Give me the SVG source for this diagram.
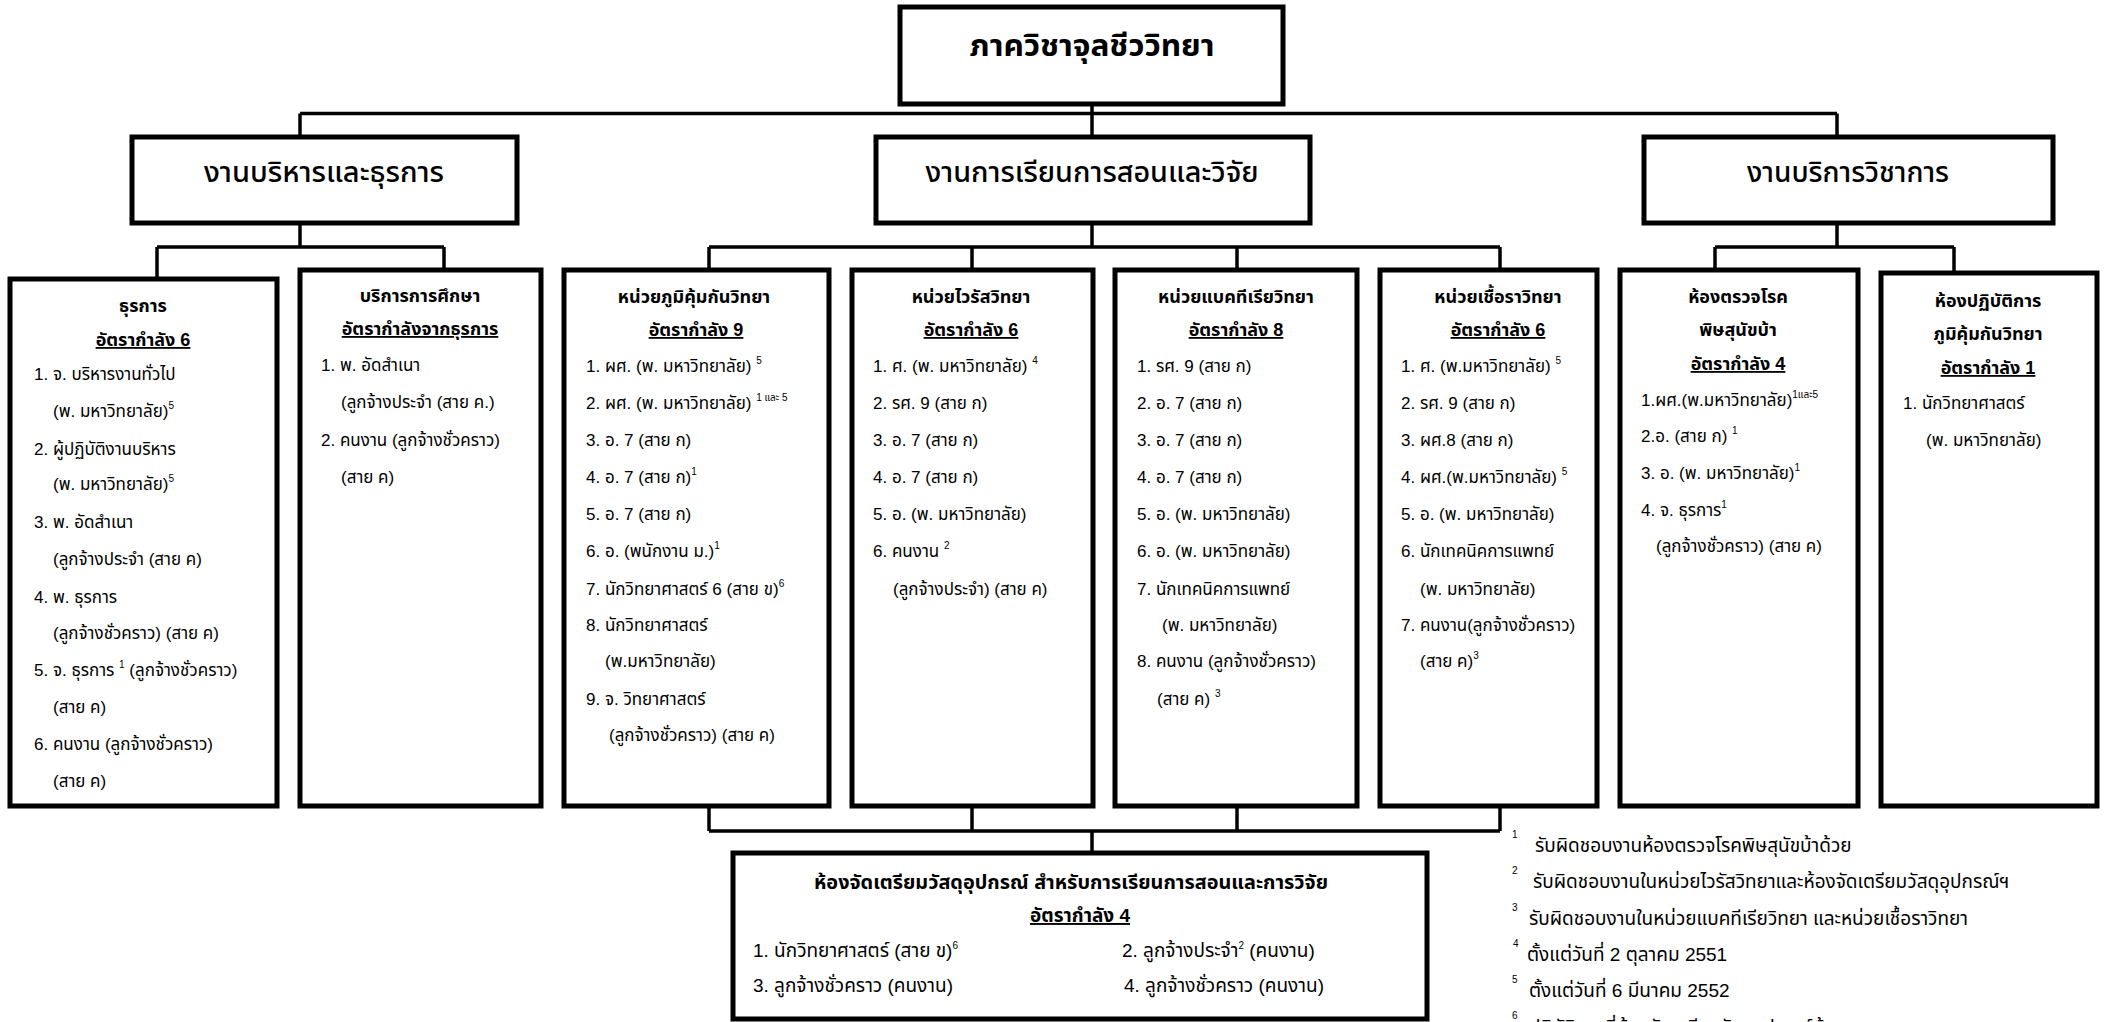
<svg xmlns="http://www.w3.org/2000/svg" width="2116" height="1022" viewBox="0 0 2116 1022">
<style>
.bx{fill:#fff;stroke:#000;stroke-width:5}
.cn{fill:none;stroke:#000;stroke-width:3.5}
text{font-family:"Liberation Sans","Noto Sans Thai","Noto Sans",sans-serif;fill:#000}
.c{font-size:17px}
.h{font-size:18px;font-weight:bold;text-anchor:middle}
.u{text-decoration:underline}
.n{font-size:28px;font-weight:500}
.nb{font-size:30px;font-weight:bold;text-anchor:middle}
.f{font-size:19px}
.s{font-size:10px}
</style>
<rect width="2116" height="1022" fill="#fff"/>
<g id="connectors">
<path class="cn" d="M1092 104V137M300 113.5H1837M300 113.5V137M1837 113.5V137"/>
<path class="cn" d="M300 223V247M157 247H444M157 247V279M444 247V270"/>
<path class="cn" d="M1092 223V247M709 247H1500M709 247V270M972 247V270M1237 247V270M1500 247V270"/>
<path class="cn" d="M1837 223V247M1715 247H1954M1715 247V270M1954 247V273"/>
<path class="cn" d="M709 806V831M972 806V831M1237 806V831M1500 806V831M709 831H1500M1092 831V853"/>
</g>
<g id="title">
<rect class="bx" x="900" y="7" width="383" height="97"/>
<text class="nb" x="1092" y="56" font-size="34" textLength="245" lengthAdjust="spacingAndGlyphs">ภาควิชาจุลชีววิทยา</text>
</g>
<g id="admin">
<rect class="bx" x="132" y="137" width="385" height="86"/>
<text class="n" x="324" y="182" text-anchor="middle" textLength="240" lengthAdjust="spacingAndGlyphs">งานบริหารและธุรการ</text>
</g>
<g id="teaching">
<rect class="bx" x="876" y="137" width="434" height="86"/>
<text class="n" x="1092" y="182" text-anchor="middle" textLength="333" lengthAdjust="spacingAndGlyphs">งานการเรียนการสอนและวิจัย</text>
</g>
<g id="service">
<rect class="bx" x="1644" y="137" width="409" height="86"/>
<text class="n" x="1848" y="182" text-anchor="middle" textLength="202" lengthAdjust="spacingAndGlyphs">งานบริการวิชาการ</text>
</g>
<g id="box1">
<rect class="bx" x="10" y="279" width="267" height="527"/>
<text class="h" x="143" y="312">ธุรการ</text>
<text class="h u" x="143" y="346">อัตรากำลัง 6</text>
<text class="c" x="34" y="380">1. จ. บริหารงานทั่วไป</text>
<text class="c" x="53" y="417">(พ. มหาวิทยาลัย)<tspan class="s" dy="-8">5</tspan></text>
<text class="c" x="34" y="455">2. ผู้ปฏิบัติงานบริหาร</text>
<text class="c" x="53" y="490">(พ. มหาวิทยาลัย)<tspan class="s" dy="-8">5</tspan></text>
<text class="c" x="34" y="528">3. พ. อัดสำเนา</text>
<text class="c" x="53" y="565">(ลูกจ้างประจำ (สาย ค)</text>
<text class="c" x="34" y="603">4.  พ. ธุรการ</text>
<text class="c" x="53" y="639">(ลูกจ้างชั่วคราว) (สาย ค)</text>
<text class="c" x="34" y="676">5. จ. ธุรการ <tspan class="s" dy="-8">1</tspan><tspan dy="8">  (ลูกจ้างชั่วคราว)</tspan></text>
<text class="c" x="53" y="713">(สาย ค)</text>
<text class="c" x="34" y="750">6. คนงาน (ลูกจ้างชั่วคราว)</text>
<text class="c" x="53" y="787">(สาย ค)</text>
</g>
<g id="box2">
<rect class="bx" x="300" y="270" width="241" height="536"/>
<text class="h" x="420" y="302">บริการการศึกษา</text>
<text class="h u" x="420" y="335">อัตรากำลังจากธุรการ</text>
<text class="c" x="321" y="371">1. พ. อัดสำเนา</text>
<text class="c" x="341" y="408">(ลูกจ้างประจำ (สาย ค.)</text>
<text class="c" x="321" y="446">2. คนงาน (ลูกจ้างชั่วคราว)</text>
<text class="c" x="341" y="483">(สาย ค)</text>
</g>
<g id="box3">
<rect class="bx" x="564" y="270" width="265" height="536"/>
<text class="h" x="694" y="303">หน่วยภูมิคุ้มกันวิทยา</text>
<text class="h u" x="696" y="336">อัตรากำลัง 9</text>
<text class="c" x="586" y="372">1. ผศ. (พ. มหาวิทยาลัย) <tspan class="s" dy="-8">5</tspan></text>
<text class="c" x="586" y="409">2. ผศ. (พ. มหาวิทยาลัย) <tspan class="s" dy="-8">1 และ 5</tspan></text>
<text class="c" x="586" y="446">3. อ. 7  (สาย ก)</text>
<text class="c" x="586" y="483">4. อ. 7  (สาย ก)<tspan class="s" dy="-8">1</tspan></text>
<text class="c" x="586" y="520">5. อ. 7  (สาย ก)</text>
<text class="c" x="586" y="557">6. อ.  (พนักงาน ม.)<tspan class="s" dy="-8">1</tspan></text>
<text class="c" x="586" y="595">7. นักวิทยาศาสตร์ 6 (สาย ข)<tspan class="s" dy="-8">6</tspan></text>
<text class="c" x="586" y="631">8. นักวิทยาศาสตร์</text>
<text class="c" x="605" y="667">(พ.มหาวิทยาลัย)</text>
<text class="c" x="586" y="705">9. จ. วิทยาศาสตร์</text>
<text class="c" x="609" y="741">(ลูกจ้างชั่วคราว) (สาย ค)</text>
</g>
<g id="box4">
<rect class="bx" x="852" y="270" width="241" height="536"/>
<text class="h" x="971" y="303">หน่วยไวรัสวิทยา</text>
<text class="h u" x="971" y="336">อัตรากำลัง 6</text>
<text class="c" x="873" y="372">1. ศ. (พ. มหาวิทยาลัย) <tspan class="s" dy="-8">4</tspan></text>
<text class="c" x="873" y="409">2. รศ. 9  (สาย ก)</text>
<text class="c" x="873" y="446">3. อ. 7  (สาย ก)</text>
<text class="c" x="873" y="483">4. อ. 7  (สาย ก)</text>
<text class="c" x="873" y="520">5. อ. (พ. มหาวิทยาลัย)</text>
<text class="c" x="873" y="557">6. คนงาน <tspan class="s" dy="-8">2</tspan></text>
<text class="c" x="893" y="595">(ลูกจ้างประจำ) (สาย ค)</text>
</g>
<g id="box5">
<rect class="bx" x="1115" y="270" width="242" height="536"/>
<text class="h" x="1236" y="303">หน่วยแบคทีเรียวิทยา</text>
<text class="h u" x="1236" y="336">อัตรากำลัง 8</text>
<text class="c" x="1137" y="372">1. รศ. 9 (สาย ก)</text>
<text class="c" x="1137" y="409">2. อ. 7 (สาย ก)</text>
<text class="c" x="1137" y="446">3. อ. 7 (สาย ก)</text>
<text class="c" x="1137" y="483">4. อ. 7 (สาย ก)</text>
<text class="c" x="1137" y="520">5. อ. (พ. มหาวิทยาลัย)</text>
<text class="c" x="1137" y="557">6. อ. (พ. มหาวิทยาลัย)</text>
<text class="c" x="1137" y="595">7. นักเทคนิคการแพทย์</text>
<text class="c" x="1162" y="631">(พ. มหาวิทยาลัย)</text>
<text class="c" x="1137" y="667">8. คนงาน (ลูกจ้างชั่วคราว)</text>
<text class="c" x="1157" y="705">(สาย ค) <tspan class="s" dy="-8">3</tspan></text>
</g>
<g id="box6">
<rect class="bx" x="1380" y="270" width="217" height="536"/>
<text class="h" x="1498" y="303">หน่วยเชื้อราวิทยา</text>
<text class="h u" x="1498" y="336">อัตรากำลัง 6</text>
<text class="c" x="1401" y="372">1. ศ. (พ.มหาวิทยาลัย) <tspan class="s" dy="-8">5</tspan></text>
<text class="c" x="1401" y="409">2. รศ. 9 (สาย ก)</text>
<text class="c" x="1401" y="446">3. ผศ.8 (สาย ก)</text>
<text class="c" x="1401" y="483">4. ผศ.(พ.มหาวิทยาลัย) <tspan class="s" dy="-8">5</tspan></text>
<text class="c" x="1401" y="520">5. อ. (พ. มหาวิทยาลัย)</text>
<text class="c" x="1401" y="557">6. นักเทคนิคการแพทย์</text>
<text class="c" x="1420" y="595">(พ. มหาวิทยาลัย)</text>
<text class="c" x="1401" y="631">7. คนงาน(ลูกจ้างชั่วคราว)</text>
<text class="c" x="1420" y="667">(สาย ค)<tspan class="s" dy="-8">3</tspan></text>
</g>
<g id="box7">
<rect class="bx" x="1620" y="270" width="238" height="536"/>
<text class="h" x="1738" y="303">ห้องตรวจโรค</text>
<text class="h" x="1738" y="336">พิษสุนัขบ้า</text>
<text class="h u" x="1738" y="370">อัตรากำลัง 4</text>
<text class="c" x="1641" y="406">1.ผศ.(พ.มหาวิทยาลัย)<tspan class="s" dy="-8">1และ5</tspan></text>
<text class="c" x="1641" y="442">2.อ. (สาย ก) <tspan class="s" dy="-8">1</tspan></text>
<text class="c" x="1641" y="479">3. อ. (พ. มหาวิทยาลัย)<tspan class="s" dy="-8">1</tspan></text>
<text class="c" x="1641" y="516">4. จ. ธุรการ<tspan class="s" dy="-8">1</tspan></text>
<text class="c" x="1656" y="552">(ลูกจ้างชั่วคราว) (สาย ค)</text>
</g>
<g id="box8">
<rect class="bx" x="1881" y="273" width="216" height="533"/>
<text class="h" x="1988" y="307">ห้องปฏิบัติการ</text>
<text class="h" x="1988" y="340">ภูมิคุ้มกันวิทยา</text>
<text class="h u" x="1988" y="374">อัตรากำลัง 1</text>
<text class="c" x="1903" y="409">1.  นักวิทยาศาสตร์</text>
<text class="c" x="1926" y="446">(พ. มหาวิทยาลัย)</text>
</g>
<g id="prep">
<rect class="bx" x="733" y="853" width="694" height="166"/>
<text class="f" x="1071" y="889" font-weight="bold" text-anchor="middle" font-size="22" textLength="514" lengthAdjust="spacingAndGlyphs">ห้องจัดเตรียมวัสดุอุปกรณ์ สำหรับการเรียนการสอนและการวิจัย</text>
<text class="f u" x="1080" y="922" font-weight="bold" text-anchor="middle">อัตรากำลัง 4</text>
<text class="f" x="753" y="957">1.  นักวิทยาศาสตร์ (สาย ข)<tspan class="s" dy="-8">6</tspan></text>
<text class="f" x="1122" y="957">2.  ลูกจ้างประจำ<tspan class="s" dy="-8">2</tspan><tspan dy="8"> (คนงาน)</tspan></text>
<text class="f" x="753" y="992">3.  ลูกจ้างชั่วคราว (คนงาน)</text>
<text class="f" x="1124" y="992">4.  ลูกจ้างชั่วคราว (คนงาน)</text>
</g>
<g id="notes">
<text class="s" x="1512" y="838">1</text>
<text class="f" x="1535" y="852">รับผิดชอบงานห้องตรวจโรคพิษสุนัขบ้าด้วย</text>
<text class="s" x="1512" y="874">2</text>
<text class="f" x="1533" y="888">รับผิดชอบงานในหน่วยไวรัสวิทยาและห้องจัดเตรียมวัสดุอุปกรณ์ฯ</text>
<text class="s" x="1512" y="911">3</text>
<text class="f" x="1529" y="925">รับผิดชอบงานในหน่วยแบคทีเรียวิทยา และหน่วยเชื้อราวิทยา</text>
<text class="s" x="1513" y="947">4</text>
<text class="f" x="1527" y="961">ตั้งแต่วันที่  2 ตุลาคม 2551</text>
<text class="s" x="1512" y="983">5</text>
<text class="f" x="1529" y="997">ตั้งแต่วันที่ 6 มีนาคม 2552</text>
<text class="s" x="1512" y="1019">6</text>
<text class="f" x="1529" y="1034">ปฏิบัติงานที่ห้องจัดเตรียมวัสดุอุปกรณ์ด้วย</text>
</g>
</svg>
